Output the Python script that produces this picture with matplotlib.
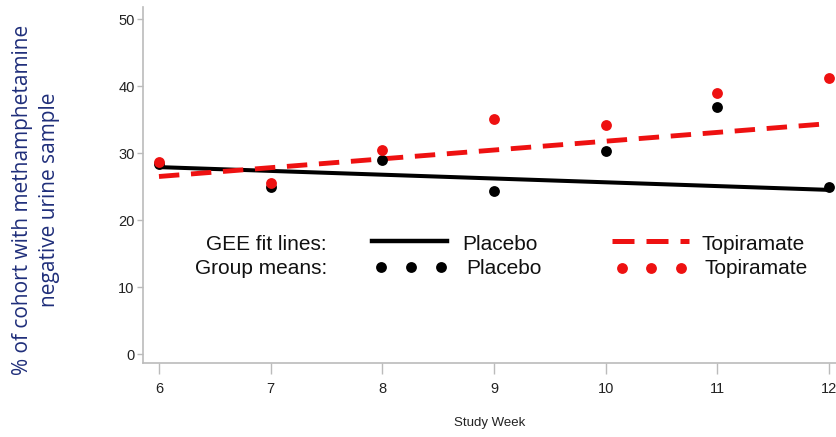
import matplotlib
matplotlib.use("Agg")
import matplotlib.pyplot as plt
from matplotlib.lines import Line2D

weeks = [6, 7, 8, 9, 10, 11, 12]
placebo_means = [28.3, 24.9, 29.0, 24.3, 30.3, 36.9, 24.9]
topiramate_means = [28.7, 25.5, 30.4, 35.1, 34.2, 39.0, 41.2]
fit_weeks = [6, 12]
placebo_fit = [27.9, 24.5]
topiramate_fit = [26.5, 34.4]
yticks = [0, 10, 20, 30, 40, 50]

plt.rcParams['font.family'] = ['Liberation Sans', 'DejaVu Sans']

fig = plt.figure(figsize=(8.37, 4.37), dpi=100)
W, H = 837, 437
ax = fig.add_axes([143 / W, 1 - 363 / H, (837 - 143) / W, (363 - 7) / H])

ax.plot(fit_weeks, placebo_fit, color='black', lw=2.9, solid_capstyle='butt', zorder=2)
ax.plot(fit_weeks, topiramate_fit, color='#EE1111', lw=3.5, dashes=(4.2, 2.4), zorder=2)
ax.plot(weeks, placebo_means, 'o', color='black', ms=7.8, mec='none', zorder=3)
ax.plot(weeks, topiramate_means, 'o', color='#EE1111', ms=7.8, mec='none', zorder=4)

ax.set_xlim(5.857, 12.07)
ax.set_ylim(-1.34, 51.8)
ax.set_xticks(weeks)
ax.set_yticks(yticks)
for s in ['top', 'right']:
    ax.spines[s].set_visible(False)
for s in ['left', 'bottom']:
    ax.spines[s].set_color('#BBBBBB')
    ax.spines[s].set_linewidth(1.2)
ax.tick_params(axis='y', length=4, width=1, color='#BBBBBB', labelsize=10.5, labelcolor='#222222', pad=2)
ax.tick_params(axis='x', length=8, width=1, color='#BBBBBB', labelsize=10.5, labelcolor='#222222', pad=6)
ax.set_xlabel('Study Week', fontsize=9.5, color='#222222', labelpad=15)

# in-plot legend
def fx(px):
    return px / W
def fy(py):
    return 1 - py / H

fs = 15
fig.text(fx(327), fy(245), 'GEE fit lines:', ha='right', va='center', fontsize=fs, color='#111111')
fig.text(fx(327), fy(269), 'Group means:', ha='right', va='center', fontsize=fs, color='#111111')
fig.add_artist(Line2D([fx(372), fx(447)], [fy(241), fy(241)], color='black', lw=3.2, transform=fig.transFigure))
fig.text(fx(462), fy(245), 'Placebo', ha='left', va='center', fontsize=fs, color='#111111')
fig.add_artist(Line2D([fx(381), fx(411), fx(441)], [fy(267)] * 3, ls='none', marker='o', ms=7.8,
                      color='black', mec='none', transform=fig.transFigure))
fig.text(fx(466), fy(269), 'Placebo', ha='left', va='center', fontsize=fs, color='#111111')
fig.add_artist(Line2D([fx(612), fx(689)], [fy(241), fy(241)], color='#EE1111', lw=3.6,
                      dashes=(4.4, 2.4), transform=fig.transFigure))
fig.text(fx(702), fy(245), 'Topiramate', ha='left', va='center', fontsize=fs, color='#111111')
fig.add_artist(Line2D([fx(622), fx(651), fx(681)], [fy(268)] * 3, ls='none', marker='o', ms=7.8,
                      color='#EE1111', mec='none', transform=fig.transFigure))
fig.text(fx(705), fy(269), 'Topiramate', ha='left', va='center', fontsize=fs, color='#111111')

fig.text(fx(36), fy(200), '% of cohort with methamphetamine\nnegative urine sample', rotation=90,
         ha='center', va='center', fontsize=15, color='#1F2E7A', family=['Open Sans', 'DejaVu Sans'],
         linespacing=1.42, multialignment='center')

fig.savefig('out.png', dpi=100)
